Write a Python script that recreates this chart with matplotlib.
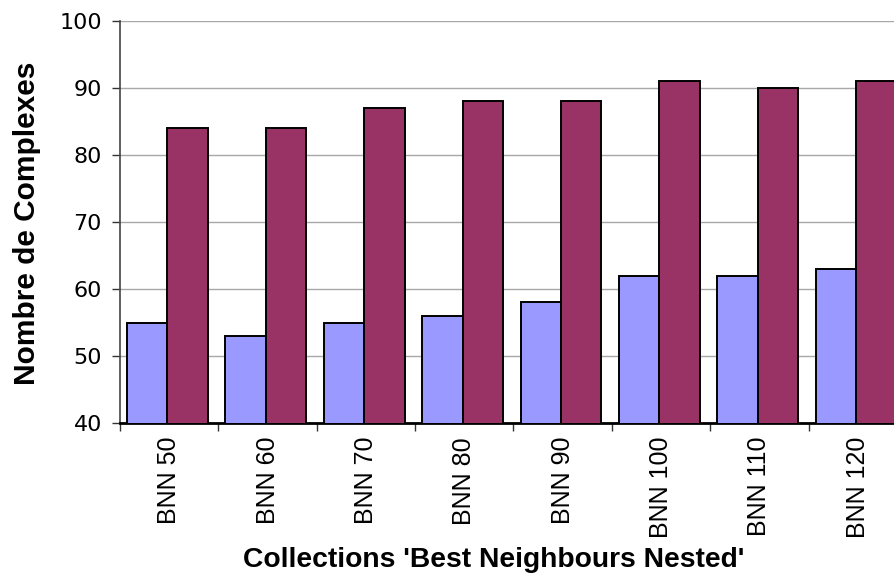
import matplotlib
matplotlib.use("Agg")
import matplotlib.pyplot as plt
import numpy as np

categories = ["BNN 50", "BNN 60", "BNN 70", "BNN 80", "BNN 90", "BNN 100", "BNN 110", "BNN 120"]
series_a = [55, 53, 55, 56, 58, 62, 62, 63]
series_b = [84, 84, 87, 88, 88, 91, 90, 91]
y_ticks = [40, 50, 60, 70, 80, 90, 100]

W, H = 895, 586
fig = plt.figure(figsize=(W / 100, H / 100), dpi=100)
ax = fig.add_axes([120 / W, 1 - 423 / H, (907 - 120) / W, (423 - 21) / H])

x = np.arange(len(categories))
bw = 0.41
ax.bar(x - 0.428, series_a, width=bw, align="edge",
       color="#9999FF", edgecolor="black", linewidth=1.4, zorder=3)
ax.bar(x - 0.428 + bw, series_b, width=bw, align="edge",
       color="#993366", edgecolor="black", linewidth=1.4, zorder=3)

ax.set_xlim(-0.5, len(categories) - 0.5)
ax.set_ylim(40, 100)
ax.set_yticks(y_ticks)
ax.set_yticklabels([str(v) for v in y_ticks], fontsize=16, family="DejaVu Sans")
ax.yaxis.grid(True, color="#A8A8A8", linewidth=1.0, zorder=0)
ax.tick_params(axis="y", direction="out", length=6, width=1, color="#333333", pad=7)

# category boundaries as major ticks, labels at centres as minor ticks
ax.set_xticks(np.arange(len(categories)) - 0.5)
ax.set_xticklabels([])
ax.tick_params(axis="x", which="major", direction="out", length=6, width=1, color="#333333")
ax.set_xticks(x, minor=True)
ax.set_xticklabels(categories, minor=True, rotation=90, fontsize=18,
                   family="Liberation Sans", va="top", ha="center")
ax.tick_params(axis="x", which="minor", length=0, pad=10)

for s in ["top", "right"]:
    ax.spines[s].set_visible(False)
ax.spines["left"].set_color("#444444")
ax.spines["left"].set_linewidth(1.2)
ax.spines["bottom"].set_color("black")
ax.spines["bottom"].set_linewidth(2)
ax.set_axisbelow(True)

fig.text(27 / W, 1 - 223 / H, "Nombre de Complexes", rotation=90, fontsize=21.5,
         fontweight="bold", family="Liberation Sans", ha="center", va="center")
fig.text(494 / W, 1 - 567 / H, "Collections 'Best Neighbours Nested'", fontsize=20.3,
         fontweight="bold", family="Liberation Sans", ha="center", va="baseline")

fig.savefig("out.png", dpi=100)
